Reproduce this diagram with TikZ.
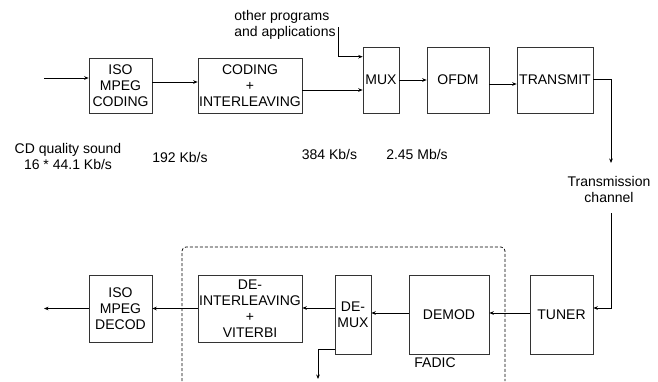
\documentclass[tikz,border=0pt]{standalone}
\usepackage{fontspec}
\setmainfont{Liberation Sans}
\usetikzlibrary{arrows.meta}
\tikzset{
  blk/.style={draw=black!80,line width=0.6pt,inner sep=0pt,align=center},
  lnk/.style={line width=1pt,->},
  txt/.style={inner sep=0pt,align=center}
}
\begin{document}
\begin{tikzpicture}[x=1pt,y=-1pt,>={Stealth[length=4.5pt,width=3.6pt]},
  font=\fontsize{14}{16}\selectfont]
  \useasboundingbox (0,0) rectangle (658,381);
  % transmitter chain
  \node[blk,minimum width=63pt,minimum height=55pt] (isoc) at (120.5,85.5) {ISO\\MPEG\\CODING};
  \node[blk,minimum width=104pt,minimum height=55pt] (codi) at (250,85.5) {CODING\\+\\INTERLEAVING};
  \node[blk,minimum width=36pt,minimum height=66pt] (mux) at (381,80) {MUX};
  \node[blk,minimum width=62pt,minimum height=66pt] (ofdm) at (458,80) {OFDM};
  \node[blk,minimum width=76pt,minimum height=66pt] (tx) at (555,80) {TRANSMIT};
  % receiver chain
  \node[blk,minimum width=63pt,minimum height=67pt] (isod) at (120.5,308.5) {ISO\\MPEG\\DECOD};
  \node[blk,minimum width=104pt,minimum height=67pt] (deil) at (250,308.5) {DE-\\INTERLEAVING\\+\\VITERBI};
  \node[blk,minimum width=36pt,minimum height=79pt] (dmux) at (353,314.5) {DE-\\MUX};
  \node[blk,minimum width=80pt,minimum height=79pt] (demod) at (449,314.5) {DEMOD};
  \node[blk,minimum width=63pt,minimum height=79pt] (tuner) at (561.5,314.5) {TUNER};
  % free ends
  \coordinate (in) at (44,78);
  \coordinate (oth) at (338,27);
  \coordinate (chan) at (611,163);
  \coordinate (chanb) at (611,213);
  \coordinate (out) at (44,308);
  \coordinate (dout) at (318,379);
  % rates and notes
  \node[txt] (cdq) at (68,156) {CD quality sound\\16 * 44.1 Kb/s};
  \node[txt] (r192) at (180,157) {192 Kb/s};
  \node[txt] (r384) at (329.5,154) {384 Kb/s};
  \node[txt] (r245) at (417,154) {2.45 Mb/s};
  \node[txt,align=left] (othtx) at (285,24.5) {other programs\\and applications};
  \node[txt] (chn) at (609,189) {Transmission\\channel};
  \node[txt] (fad) at (435,363) {FADIC};
  % links
  \draw[lnk] (in) -- (in -| isoc.west);
  \draw[lnk] ([yshift=3.5pt]isoc.east) -- ([yshift=3.5pt]isoc.east -| codi.west);
  \draw[lnk] ([yshift=-4.5pt]codi.east) -- ([yshift=-4.5pt]codi.east -| mux.west);
  \draw[lnk] (oth) |- ([yshift=-10pt]mux.north west);
  \draw[lnk] (mux) -- (ofdm);
  \draw[lnk] ([yshift=-4pt]ofdm.east) -- ([yshift=-4pt]ofdm.east -| tx.west);
  \draw[lnk] ([yshift=1pt]tx.east) -| (chan);
  \draw[lnk] (chanb) |- ([yshift=6.5pt]tuner.east);
  \draw[lnk] ([yshift=1.5pt]tuner.west) -- ([yshift=1.5pt]tuner.west -| demod.east);
  \draw[lnk] ([yshift=1.5pt]demod.west) -- ([yshift=1.5pt]demod.west -| dmux.east);
  \draw[lnk] ([yshift=6.5pt]dmux.west) -- ([yshift=6.5pt]dmux.west -| deil.east);
  \draw[lnk] (deil) -- (isod);
  \draw[lnk] (isod.west) -- (isod.west -| out);
  \draw[lnk] ([yshift=5pt]dmux.south west) -| (dout);
  % FADIC frame
  \draw[dash pattern=on 3pt off 2pt,rounded corners=4pt,line width=0.7pt]
    (182,381) -- (182,247) -- (505,247) -- (505,381);
\end{tikzpicture}
\end{document}
